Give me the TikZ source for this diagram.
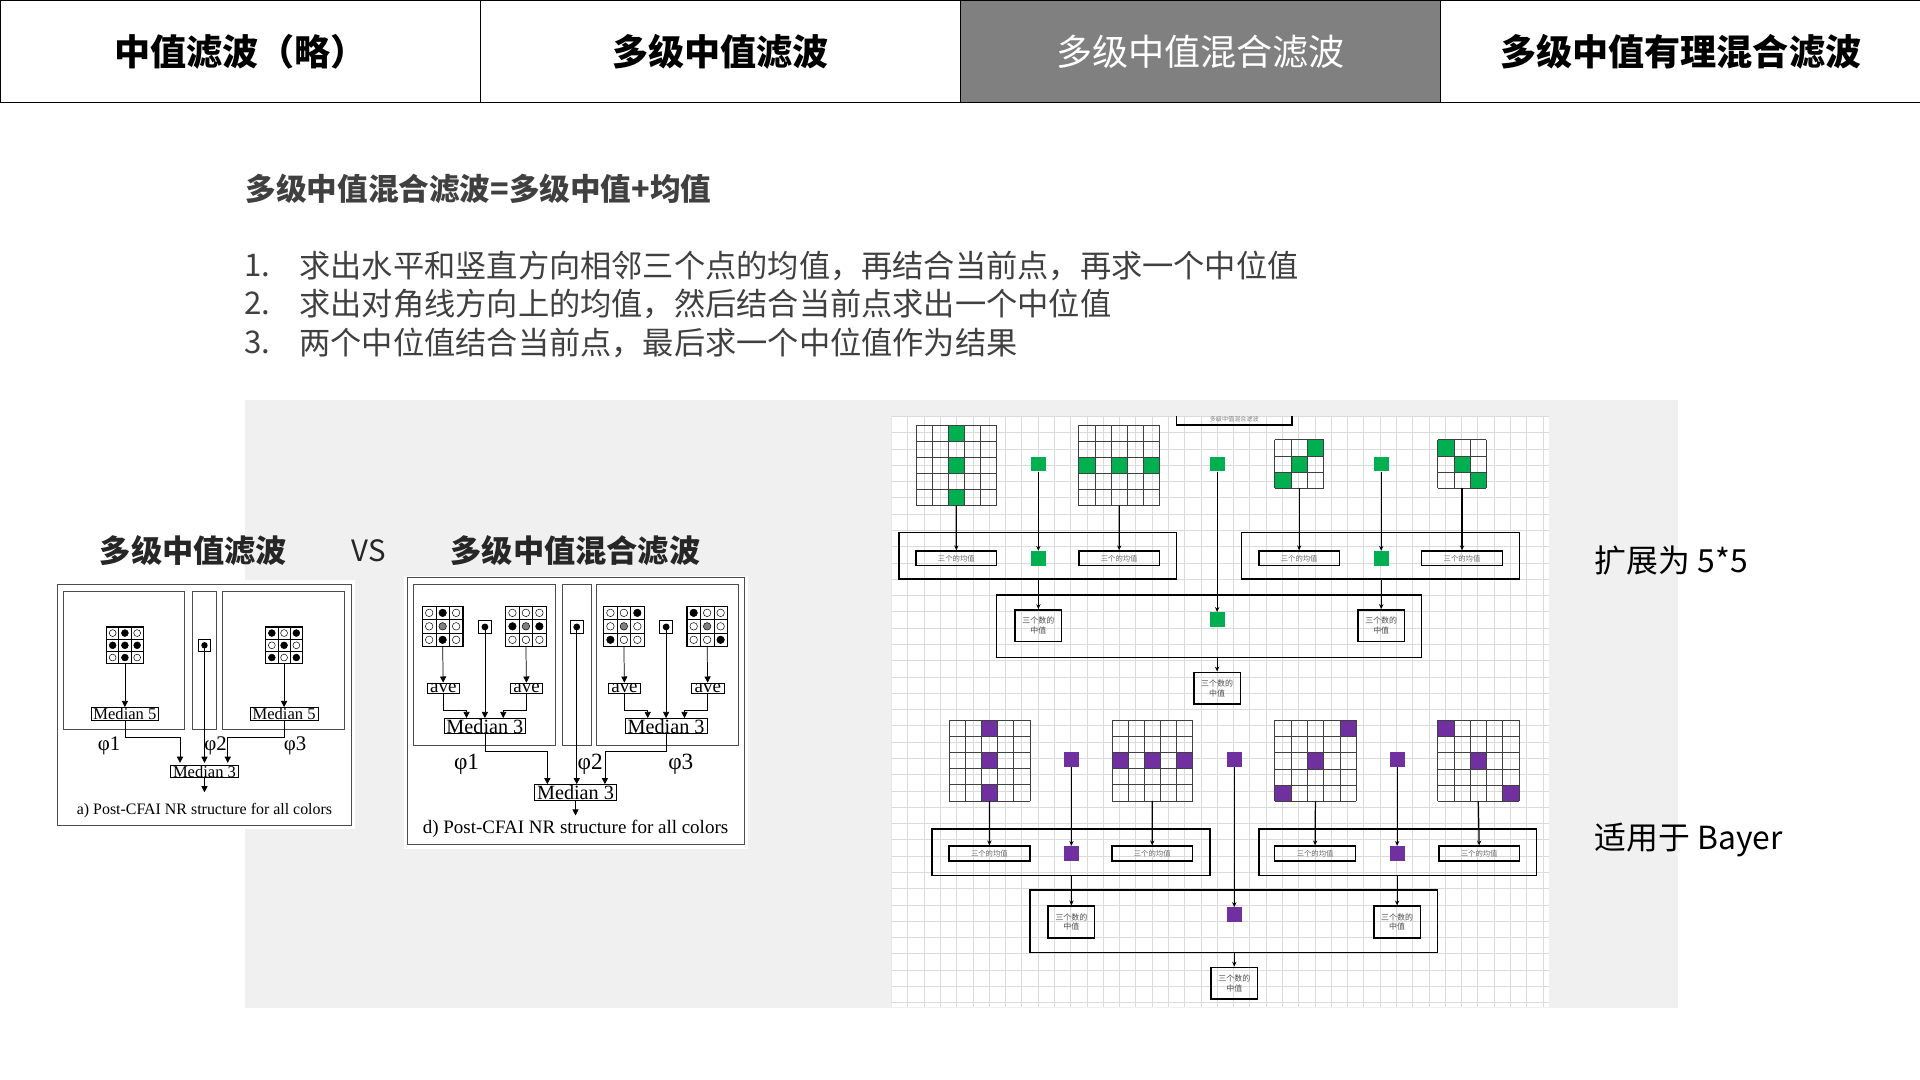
\documentclass[tikz,border=0pt]{standalone}
\usepackage{fontspec}
\setmainfont{Liberation Serif}
\newfontfamily\cjk{Noto Sans CJK SC}
\usetikzlibrary{arrows.meta}
\definecolor{gbg}{HTML}{F0F0F0}
\definecolor{grn}{HTML}{00B050}
\definecolor{prp}{HTML}{7030A0}
\definecolor{tabgray}{HTML}{808080}
\newcommand{\mgrid}[7]{%
  \foreach \c/\r in {#7}{\fill[#6] ({#2+\c*#5},{#3+\r*#5}) rectangle ++(#5,#5);}
  \foreach \k in {0,...,#4}{\draw[line width=0.5pt,black!75] ({#2+\k*#5},#3) -- ({#2+\k*#5},{#3+#4*#5});
    \draw[line width=0.5pt,black!75] (#2,{#3+\k*#5}) -- ({#2+#4*#5},{#3+\k*#5});}
  \coordinate (#1) at ({#2+#4*#5/2},{#3+#4*#5});
}
\newcommand{\dgrid}[5]{%
  \foreach \f [count=\i from 0] in {#5}{%
    \pgfmathtruncatemacro\cc{mod(\i,3)}\pgfmathtruncatemacro\rr{div(\i,3)}%
    \draw[line width=0.5pt] ({#2+\cc*#4},{#3+\rr*#4}) rectangle ++(#4,#4);
    \draw[line width=0.4pt,fill=\f] ({#2+\cc*#4+#4/2},{#3+\rr*#4+#4/2}) circle ({#4*0.28});}
  \draw[line width=0.9pt] (#2,#3) rectangle ++({3*#4},{3*#4});
  \coordinate (#1) at ({#2+1.5*#4},{#3+3*#4});
}
\tikzset{
  tab/.style={draw=black,line width=1pt,minimum width=392pt,minimum height=83pt,anchor=north west,font=\cjk\bfseries\fontsize{29.5}{31}\selectfont},
  sq/.style={minimum size=12pt,inner sep=0pt},
  avg/.style={draw,line width=1.2pt,minimum width=66pt,minimum height=12pt,inner sep=0pt,font=\cjk\fontsize{6}{6}\selectfont,text=black!60},
  med/.style={draw,line width=1.2pt,minimum width=38pt,minimum height=26pt,inner sep=0pt,align=center,font=\cjk\fontsize{6.5}{8}\selectfont,text=black!70},
  bigbox/.style={draw,line width=1.2pt},
  arr/.style={-{Stealth[length=4pt,width=3.5pt]},line width=1pt},
  farr/.style={-{Triangle[length=5pt,width=5pt]},line width=0.6pt},
  fbox/.style={draw,line width=0.6pt,inner xsep=2pt,inner ysep=0.5pt,font=\fontsize{13.5}{13.5}\selectfont},
  lbl/.style={font=\cjk\bfseries\fontsize{25.5}{27}\selectfont,text=black!85},
  phi/.style={font=\fontsize{17}{17}\selectfont},
}
\begin{document}
\begin{tikzpicture}[x=1pt,y=-1pt]
\useasboundingbox (0,0) rectangle (1568,882);
\fill[white] (0,0) rectangle (1568,882);
\node[tab] (t1) at (0,0) {中值滤波（略）};
\node[tab] (t2) at (392,0) {多级中值滤波};
\node[tab,fill=tabgray,text=white,font=\cjk\fontsize{29.5}{31}\selectfont] (t3) at (784,0) {多级中值混合滤波};
\node[tab] (t4) at (1176,0) {多级中值有理混合滤波};
\node[anchor=west,font=\cjk\bfseries\fontsize{25}{27}\selectfont,text=black!75] (h) at (197,154) {多级中值混合滤波=多级中值+均值};
\begin{scope}[every node/.style={anchor=west,font=\cjk\fontsize{25.5}{27}\selectfont,text=black!75}]
\node (n1) at (196,217) {1.};\node (l1) at (241,217) {求出水平和竖直方向相邻三个点的均值，再结合当前点，再求一个中位值};
\node (n2) at (196,248) {2.};\node (l2) at (241,248) {求出对角线方向上的均值，然后结合当前点求出一个中位值};
\node (n3) at (196,280) {3.};\node (l3) at (241,280) {两个中位值结合当前点，最后求一个中位值作为结果};
\end{scope}
\fill[gbg] (200,327) rectangle (1370,823);
\node[lbl] (la) at (158,450) {多级中值滤波};
\node[font=\cjk\fontsize{24}{26}\selectfont,text=black!85] (vs) at (301,450) {VS};
\node[lbl] (lb) at (470,450) {多级中值混合滤波};
\node[anchor=west,font=\cjk\fontsize{26}{28}\selectfont] (e1) at (1299,458) {扩展为 5*5};
\node[anchor=west,font=\cjk\fontsize{26}{28}\selectfont] (e2) at (1299,686) {适用于 Bayer};
% ===== figure a
\fill[white] (43,474) rectangle (290,677);
\draw[line width=0.8pt,black!70] (47,477) rectangle (287,674);
\draw[line width=0.8pt,black!70] (52,483) rectangle (151,596) (157,483) rectangle (177,596) (182,483) rectangle (281,596);
\dgrid{ga1}{87}{512}{10}{white,black,white,black,black,black,white,black,white}
\dgrid{ga2}{217}{512}{10}{black,white,black,white,black,white,black,white,black}
\node[draw,line width=0.6pt,minimum size=10pt,inner sep=0pt] (dA) at (167,527) {};
\fill (dA) circle (2.6pt);
\node[fbox] (m5a) at (102,583) {Median 5};
\node[fbox] (m5b) at (232,583) {Median 5};
\node[fbox] (m3a) at (167,630) {Median 3};
\coordinate (oa) at (167,647);
\draw[farr] (ga1) -- (m5a);
\draw[farr] (ga2) -- (m5b);
\draw[farr] (m5a.south) |- (147,602) -- (147,623);
\draw[farr] (dA.center) -- (167,623);
\draw[farr] (m5b.south) |- (186,602) -- (186,623);
\draw[farr] (m3a) -- (oa);
\node[phi] (pa1) at (89,609) {φ1};
\node[phi] (pa2) at (176,609) {φ2};
\node[phi] (pa3) at (241,609) {φ3};
\node[font=\fontsize{13}{13}\selectfont] (ca) at (167,662) {a) Post-CFAI NR structure for all colors};
% ===== figure d
\fill[white] (330,470) rectangle (611,693);
\draw[line width=0.8pt,black!70] (333,472) rectangle (608,690);
\draw[line width=0.8pt,black!70] (338,477) rectangle (454,609) (459,477) rectangle (483,609) (487,477) rectangle (603,609);
\dgrid{gd1}{345}{495}{11}{white,black,white,white,gray,white,white,black,white}
\dgrid{gd2}{413}{495}{11}{white,white,white,black,gray,black,white,white,white}
\dgrid{gd3}{493}{495}{11}{white,white,black,white,gray,white,black,white,white}
\dgrid{gd4}{561}{495}{11}{black,white,white,white,gray,white,white,white,black}
\foreach \n/\x in {d1/396,d2/471,d3/544}{
  \node[draw,line width=0.6pt,minimum size=11pt,inner sep=0pt] (\n) at (\x,512) {};
  \fill (\n) circle (2.8pt);}
\foreach \n/\x in {a1/362,a2/430,a3/510,a4/578}{
  \node[fbox,font=\fontsize{15.5}{15.5}\selectfont,inner xsep=2.5pt] (\n) at (\x,562) {ave};}
\node[fbox,font=\fontsize{16.5}{16.5}\selectfont] (m3l) at (396,593) {Median 3};
\node[fbox,font=\fontsize{16.5}{16.5}\selectfont] (m3r) at (544,593) {Median 3};
\node[fbox,font=\fontsize{16.5}{16.5}\selectfont] (m3d) at (470,647) {Median 3};
\coordinate (od) at (470,666);
\draw[farr] (gd1) -- (a1);\draw[farr] (gd2) -- (a2);\draw[farr] (gd3) -- (a3);\draw[farr] (gd4) -- (a4);
\draw[farr] (a1.south) |- (381,580) -- (m3l.north -| 381,0);
\draw[farr] (d1.center) -- (m3l.north);
\draw[farr] (a2.south) |- (411,580) -- (m3l.north -| 411,0);
\draw[farr] (a3.south) |- (529,580) -- (m3r.north -| 529,0);
\draw[farr] (d3.center) -- (m3r.north);
\draw[farr] (a4.south) |- (559,580) -- (m3r.north -| 559,0);
\draw[farr] (m3l.south) |- (447,614) -- (m3d.north -| 447,0);
\draw[farr] (d2.center) -- (m3d.north -| d2);
\draw[farr] (m3r.south) |- (494,614) -- (m3d.north -| 494,0);
\draw[farr] (m3d) -- (od);
\node[phi,font=\fontsize{19}{19}\selectfont] (pd1) at (381,624) {φ1};
\node[phi,font=\fontsize{19}{19}\selectfont] (pd2) at (482,624) {φ2};
\node[phi,font=\fontsize{19}{19}\selectfont] (pd3) at (556,624) {φ3};
\node[font=\fontsize{15.5}{15.5}\selectfont] (cd) at (470,677) {d) Post-CFAI NR structure for all colors};
% ===== right diagram
\fill[white] (728,340) rectangle (1265,822);
\begin{scope}
\clip (728,340) rectangle (1265,822);
\foreach \k in {0,...,41}{\draw[black!14,line width=0.5pt] ({728+\k*13.3},340) -- ({728+\k*13.3},822);}
\foreach \k in {0,...,37}{\draw[black!14,line width=0.5pt] (728,{340+\k*13.3}) -- (1265,{340+\k*13.3});}
\draw[line width=1.2pt] (961,330) -- (961,347) -- (1055,347) -- (1055,330);
\node[font=\cjk\fontsize{5}{5}\selectfont,text=black!50] (tt) at (1008,342) {多级中值混合滤波};
\end{scope}
\mgrid{uA}{748}{347}{5}{13.2}{grn}{2/0,2/2,2/4}
\mgrid{uB}{881}{347}{5}{13.2}{grn}{0/2,2/2,4/2}
\mgrid{uC}{1041}{359}{3}{13.3}{grn}{2/0,1/1,0/2}
\mgrid{uD}{1174}{359}{3}{13.3}{grn}{0/0,1/1,2/2}
\node[sq,fill=grn] (us1) at (848,379) {};
\node[sq,fill=grn] (us2) at (994,379) {};
\node[sq,fill=grn] (us3) at (1128,379) {};
\draw[bigbox] (734,435) rectangle (961,473);
\draw[bigbox] (1014,435) rectangle (1241,473);
\node[avg] (uav1) at (781,456) {三个的均值};
\node[avg] (uav2) at (914,456) {三个的均值};
\node[avg] (uav3) at (1061,456) {三个的均值};
\node[avg] (uav4) at (1194,456) {三个的均值};
\node[sq,fill=grn] (ui1) at (848,456) {};
\node[sq,fill=grn] (ui2) at (1128,456) {};
\draw[bigbox] (814,486) rectangle (1161,537);
\node[med] (um1) at (848,511) {三个数的\\中值};
\node[med] (um2) at (1128,511) {三个数的\\中值};
\node[sq,fill=grn] (uc) at (994,506) {};
\node[med] (uf) at (994,562) {三个数的\\中值};
\coordinate (ub1) at (848,473);\coordinate (ub2) at (1128,473);\coordinate (ub3) at (994,537);
\draw[arr] (uA) -- (uav1);\draw[arr] (us1) -- (ui1);\draw[arr] (uB) -- (uav2);
\draw[arr] (uC -| uav3) -- (uav3);\draw[arr] (us3) -- (ui2);\draw[arr] (uD -| uav4) -- (uav4);
\draw[arr] (ub1) -- (um1);\draw[arr] (us2) -- (uc);\draw[arr] (ub2) -- (um2);\draw[arr] (ub3) -- (uf);
\mgrid{lA}{775}{588}{5}{13.2}{prp}{2/0,2/2,2/4}
\mgrid{lB}{908}{588}{5}{13.2}{prp}{0/2,2/2,4/2}
\mgrid{lC}{1041}{588}{5}{13.3}{prp}{4/0,2/2,0/4}
\mgrid{lD}{1174}{588}{5}{13.3}{prp}{0/0,2/2,4/4}
\node[sq,fill=prp] (ls1) at (875,620) {};
\node[sq,fill=prp] (ls2) at (1008,620) {};
\node[sq,fill=prp] (ls3) at (1141,620) {};
\draw[bigbox] (761,677) rectangle (988,715);
\draw[bigbox] (1028,677) rectangle (1255,715);
\node[avg] (lav1) at (808,697) {三个的均值};
\node[avg] (lav2) at (941,697) {三个的均值};
\node[avg] (lav3) at (1074,697) {三个的均值};
\node[avg] (lav4) at (1208,697) {三个的均值};
\node[sq,fill=prp] (li1) at (875,697) {};
\node[sq,fill=prp] (li2) at (1141,697) {};
\draw[bigbox] (841,727) rectangle (1174,778);
\node[med] (lm1) at (875,753) {三个数的\\中值};
\node[med] (lm2) at (1141,753) {三个数的\\中值};
\node[sq,fill=prp] (lc) at (1008,747) {};
\node[med] (lf) at (1008,803) {三个数的\\中值};
\coordinate (lb1) at (875,715);\coordinate (lb2) at (1141,715);\coordinate (lb3) at (1008,778);
\draw[arr] (lA) -- (lav1);\draw[arr] (ls1) -- (li1);\draw[arr] (lB) -- (lav2);
\draw[arr] (lC) -- (lav3 |- lav3.north);\draw[arr] (ls3) -- (li2);\draw[arr] (lD) -- (lav4 |- lav4.north);
\draw[arr] (lb1) -- (lm1);\draw[arr] (ls2) -- (lc);\draw[arr] (lb2) -- (lm2);\draw[arr] (lb3) -- (lf);
\end{tikzpicture}
\end{document}
